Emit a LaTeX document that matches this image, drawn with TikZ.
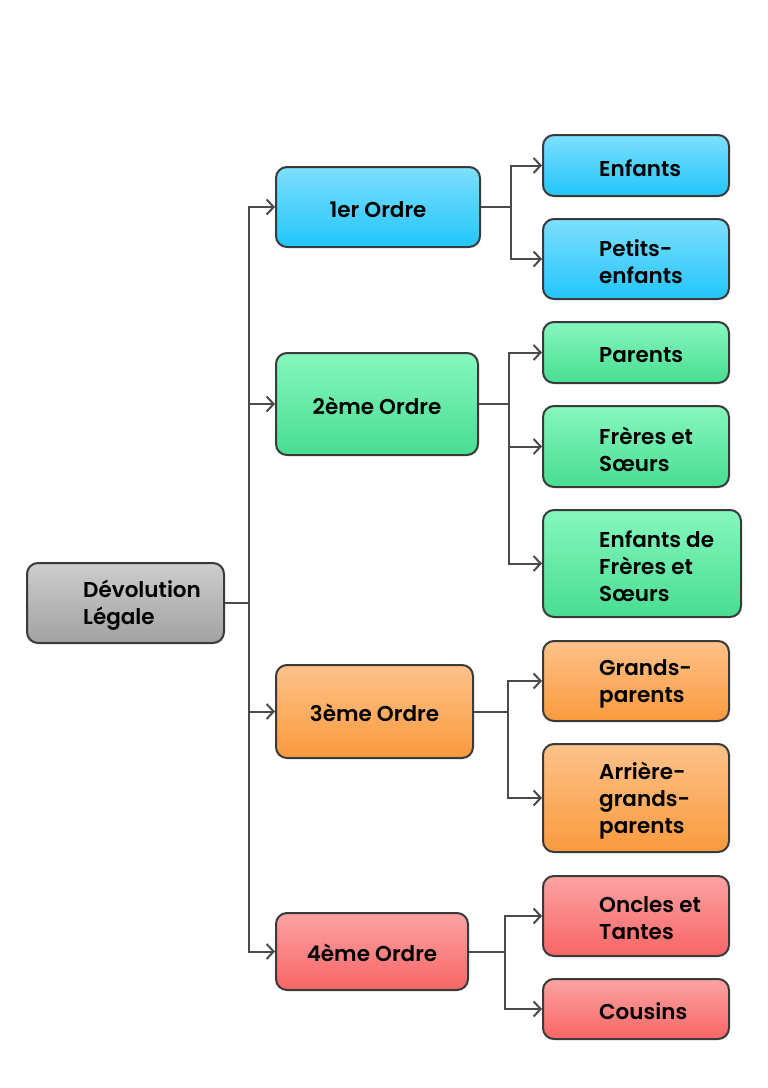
\documentclass[tikz,border=0pt]{standalone}
\usepackage{fontspec}
\setmainfont{Poppins}[BoldFont={Poppins SemiBold}]
\usetikzlibrary{arrows.meta,positioning,calc}
\definecolor{bordure}{HTML}{3A3A3A}
\definecolor{trait}{HTML}{4A4A4A}
\definecolor{bleuH}{HTML}{7DDFFD}\definecolor{bleuB}{HTML}{22C5FB}
\definecolor{vertH}{HTML}{86F7BE}\definecolor{vertB}{HTML}{48DD92}
\definecolor{orH}{HTML}{FDC28A}\definecolor{orB}{HTML}{FA9A3D}
\definecolor{rougeH}{HTML}{FCA3A3}\definecolor{rougeB}{HTML}{F86565}
\definecolor{grisH}{HTML}{CDCDCD}\definecolor{grisB}{HTML}{A1A1A1}
\tikzset{
  boite/.style={draw=bordure, line width=2pt, rounded corners=11pt, inner sep=0pt},
  bleu/.style={boite, top color=bleuH, bottom color=bleuB},
  vert/.style={boite, top color=vertH, bottom color=vertB},
  orange/.style={boite, top color=orH, bottom color=orB},
  rouge/.style={boite, top color=rougeH, bottom color=rougeB},
  gris/.style={boite, top color=grisH, bottom color=grisB},
  txt/.style={anchor=west, align=left, inner sep=0pt, font=\fontsize{21.5}{27}\selectfont\bfseries},
  ordre/.style={txt, anchor=center, align=center, text height=21pt},
  lien/.style={draw=trait, line width=2pt, -{Straight Barb[length=7pt,width=15pt,line width=2pt]}}
}
\begin{document}
\begin{tikzpicture}[x=1pt,y=-1pt]
        \useasboundingbox[fill=white] (0,0) rectangle (768,1088);
        % Root
        \node[gris, minimum width=197, minimum height=80] (root) at (125.5,603) {};
        \node[txt] (root-t) at ([xshift=57,yshift=-2.5]root.west) {Dévolution\\Légale};
        % Orders
        \node[bleu, minimum width=204, minimum height=80, ordre] (o1) at (378,207) {1er Ordre};
        \node[vert, minimum width=202, minimum height=102, ordre] (o2) at (377,404) {2ème Ordre};
        \node[orange, minimum width=197, minimum height=93, ordre] (o3) at (374.5,711.5) {3ème Ordre};
        \node[rouge, minimum width=192, minimum height=77, ordre] (o4) at (372,951.5) {4ème Ordre};
        % Leaves
        \node[bleu, minimum width=186, minimum height=61] (enf) at (636,165.5) {};
        \node[txt] (enf-t) at ([xshift=57,yshift=-2.5]enf.west) {Enfants};
        \node[bleu, minimum width=186, minimum height=80] (pet) at (636,259) {};
        \node[txt] (pet-t) at ([xshift=57,yshift=-2.5]pet.west) {Petits-\\enfants};
        \node[vert, minimum width=186, minimum height=61] (par) at (636,352.5) {};
        \node[txt] (par-t) at ([xshift=57,yshift=-2.5]par.west) {Parents};
        \node[vert, minimum width=186, minimum height=81] (fre) at (636,446.5) {};
        \node[txt] (fre-t) at ([xshift=57,yshift=-2.5]fre.west) {Frères et\\Sœurs};
        \node[vert, minimum width=198, minimum height=107] (efs) at (642,563.5) {};
        \node[txt] (efs-t) at ([xshift=57,yshift=-2.5]efs.west) {Enfants de\\Frères et\\Sœurs};
        \node[orange, minimum width=186, minimum height=80] (gra) at (636,681) {};
        \node[txt] (gra-t) at ([xshift=57,yshift=-2.5]gra.west) {Grands-\\parents};
        \node[orange, minimum width=186, minimum height=108] (arr) at (636,798) {};
        \node[txt] (arr-t) at ([xshift=57,yshift=-2.5]arr.west) {Arrière-\\grands-\\parents};
        \node[rouge, minimum width=186, minimum height=80] (onc) at (636,916) {};
        \node[txt] (onc-t) at ([xshift=57,yshift=-2.5]onc.west) {Oncles et\\Tantes};
        \node[rouge, minimum width=186, minimum height=60] (cou) at (636,1009) {};
        \node[txt] (cou-t) at ([xshift=57,yshift=-2.5]cou.west) {Cousins};
        % Branch points
        \coordinate (tronc) at (249,603);
        \coordinate (b1) at (511,207);
        \coordinate (b2) at (509,404);
        \coordinate (b3) at (508,711.5);
        \coordinate (b4) at (505,951.5);
        % Links
        \foreach \o in {o1,o2,o3,o4}
          \draw[lien] (root.east) -- (tronc) |- (\o.west);
        \foreach \f in {enf,pet}
          \draw[lien] (o1.east) -- (b1) |- (\f.west);
        \foreach \f in {par,fre,efs}
          \draw[lien] (o2.east) -- (b2) |- (\f.west);
        \foreach \f in {gra,arr}
          \draw[lien] (o3.east) -- (b3) |- (\f.west);
        \foreach \f in {onc,cou}
          \draw[lien] (o4.east) -- (b4) |- (\f.west);
      \end{tikzpicture}
\end{document}
